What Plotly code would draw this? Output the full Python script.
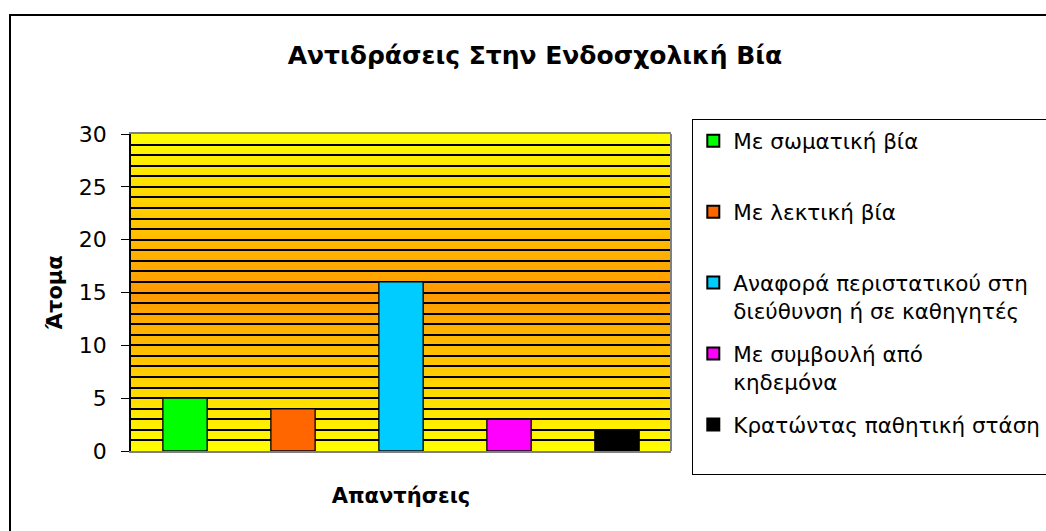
import base64

import plotly.graph_objects as go

# Απαντήσεις (legend entries) and number of people
categories = [
    "Με σωματική βία",
    "Με λεκτική βία",
    "Αναφορά περιστατικού στη διεύθυνση ή σε καθηγητές",
    "Με συμβουλή από κηδεμόνα",
    "Κρατώντας παθητική στάση",
]
legend_labels = [
    "Με σωματική βία<br> ",
    "Με λεκτική βία<br> ",
    "Αναφορά περιστατικού στη<br>διεύθυνση ή σε καθηγητές",
    "Με συμβουλή από<br>κηδεμόνα",
    "Κρατώντας παθητική στάση<br> ",
]
values = [5, 4, 16, 3, 2]
colors = ["#00FF00", "#FF6600", "#00CCFF", "#FF00FF", "#000000"]

W, H = 1046, 531
ML, MR, MT, MB = 131, 375, 134, 80
PW, PH = W - ML - MR, H - MT - MB

FONT = "DejaVu Sans, Liberation Sans, Arial, sans-serif"

# vertical yellow -> orange -> yellow gradient for the plot background
svg = (
    '<svg xmlns="http://www.w3.org/2000/svg" width="100" height="100" '
    'viewBox="0 0 100 100" preserveAspectRatio="none">'
    '<defs><linearGradient id="g" x1="0" y1="0" x2="0" y2="1">'
    '<stop offset="0" stop-color="#FFFF00"/>'
    '<stop offset="0.5" stop-color="#FF9900"/>'
    '<stop offset="1" stop-color="#FFFF00"/>'
    "</linearGradient></defs>"
    '<rect width="100" height="100" fill="url(#g)"/></svg>'
)
bg_src = "data:image/svg+xml;base64," + base64.b64encode(svg.encode()).decode()

fig = go.Figure()
for i, (cat, lab, val, col) in enumerate(zip(categories, legend_labels, values, colors)):
    fig.add_trace(
        go.Bar(
            x=[cat],
            y=[val],
            name=lab,
            legendgroup=f"g{i}",
            width=0.41,
            marker=dict(color=col, line=dict(color="#000000", width=1.3)),
        )
    )

fig.update_layout(
    width=W,
    height=H,
    margin=dict(l=ML, r=MR, t=MT, b=MB, autoexpand=False),
    paper_bgcolor="white",
    plot_bgcolor="rgba(0,0,0,0)",
    barmode="overlay",
    font=dict(family=FONT, color="black", size=20),
    title=dict(
        text="<b>Αντιδράσεις Στην Ενδοσχολική Βία</b>",
        x=535 / W,
        xanchor="center",
        y=1 - 55 / H,
        yanchor="middle",
        font=dict(size=25),
    ),
    showlegend=True,
    legend=dict(
        x=(692 - ML) / PW,
        xanchor="left",
        y=1 + (MT - 119) / PH,
        yanchor="top",
        bgcolor="white",
        bordercolor="black",
        borderwidth=1.3,
        font=dict(size=21.5),
        valign="top",
        tracegroupgap=12,
        traceorder="grouped",
        itemsizing="constant",
        maxheight=420,
    ),
    images=[
        dict(
            source=bg_src,
            xref="paper",
            yref="paper",
            x=0,
            y=1,
            sizex=1,
            sizey=1,
            sizing="stretch",
            xanchor="left",
            yanchor="top",
            layer="below",
        )
    ],
    shapes=[
        # outer chart border
        dict(
            type="rect",
            xref="paper",
            yref="paper",
            x0=(10 - ML) / PW,
            x1=(W + 20 - ML) / PW,
            y0=-(H + 20 - MT - PH) / PH,
            y1=1 + (MT - 15) / PH,
            line=dict(color="black", width=2),
            fillcolor="rgba(0,0,0,0)",
            layer="below",
        ),
        # right border of plot area
        dict(
            type="line",
            xref="paper",
            yref="paper",
            x0=1,
            x1=1,
            y0=0,
            y1=1,
            line=dict(color="#808080", width=2),
        ),
    ],
)

fig.update_xaxes(
    showticklabels=False,
    ticks="",
    showgrid=False,
    showline=True,
    linecolor="#808080",
    linewidth=2,
    mirror=True,
    categoryorder="array",
    categoryarray=categories,
    range=[-0.5, 4.5],
    title=dict(text="<b>Απαντήσεις</b>", font=dict(size=21), standoff=36),
)
fig.update_yaxes(
    range=[0, 30],
    dtick=5,
    tick0=0,
    ticks="outside",
    ticklen=8,
    tickcolor="black",
    tickwidth=1.3,
    ticklabelstandoff=10,
    showline=True,
    linecolor="black",
    linewidth=1.5,
    showgrid=True,
    gridcolor="black",
    gridwidth=1.5,
    zeroline=False,
    tickfont=dict(size=22),
    minor=dict(dtick=1, showgrid=True, gridcolor="black", gridwidth=1.5, ticks=""),
    title=dict(text="<b>Άτομα</b>", font=dict(size=21), standoff=10),
)

fig.write_html(
    "out.html",
    config={"displayModeBar": False},
    post_script="document.body.style.margin='0';document.body.style.overflow='hidden';",
)
